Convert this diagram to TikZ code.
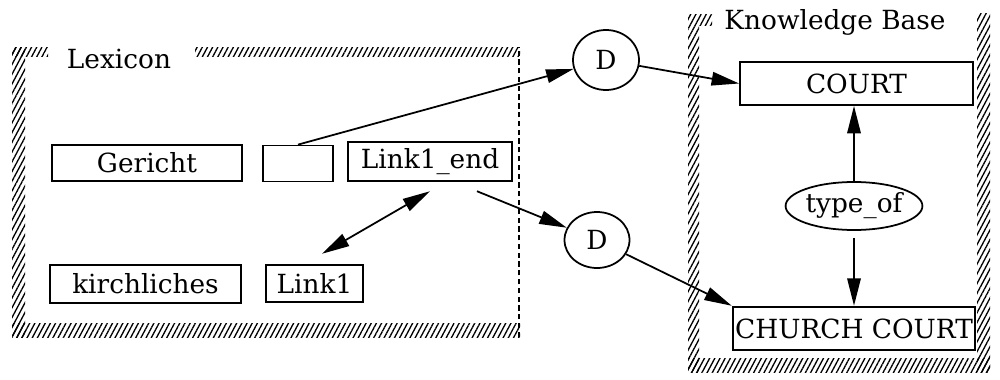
\documentclass[tikz,border=0pt]{standalone}
\usepackage{fontspec}
\setmainfont{DejaVu Serif}
\usetikzlibrary{arrows.meta,patterns.meta,shapes.geometric}

\tikzset{
  >={Triangle[length=5.5mm,width=2.7mm]},
  hatch/.style={pattern={Lines[angle=62,distance=2.6pt,line width=0.75pt]}},
  entry/.style={draw, line width=1pt, minimum height=0.72cm, inner sep=0pt},
  concept/.style={draw, line width=1pt, minimum height=0.86cm, inner sep=0pt},
  oval/.style={draw, ellipse, line width=1pt, inner sep=0pt},
  link/.style={->, line width=1pt},
}

\begin{document}
\begin{tikzpicture}[font=\fontsize{15}{18}\selectfont]
  \useasboundingbox (0,0) rectangle (20,7.58);

  % lexicon frame
  \path[hatch] (0.24,6.46) rectangle (0.96,6.64);
  \path[hatch] (3.90,6.46) rectangle (10.40,6.64);
  \path[hatch] (0.24,0.84) rectangle (0.50,6.64);
  \path[hatch] (0.24,0.84) rectangle (10.40,1.12);
  \draw[densely dashed, line width=0.8pt] (10.38,0.84) -- (10.38,6.64);
  \node (lexicon) at (2.38,6.40) {Lexicon};

  % knowledge base frame
  \path[hatch] (13.76,0.14) rectangle (13.98,7.30);
  \path[hatch] (13.98,7.08) rectangle (14.24,7.30);
  \path[hatch] (19.54,0.14) rectangle (19.80,7.32);
  \path[hatch] (13.76,0.14) rectangle (19.80,0.42);
  \node (kb) at (16.70,7.14) {Knowledge Base};

  % lexicon entries
  \node[entry, minimum width=3.8cm] (gericht) at (2.94,4.32) {Gericht};
  \node[entry, minimum width=1.4cm] (blank) at (5.96,4.31) {};
  \node[entry, minimum width=3.28cm, minimum height=0.78cm, line width=1.4pt] (linkend) at (8.60,4.35) {Link1\_end};
  \node[entry, minimum width=3.82cm, minimum height=0.76cm] (kirchl) at (2.91,1.90) {kirchliches};
  \node[entry, minimum width=1.94cm, minimum height=0.74cm, line width=1.4pt] (link) at (6.29,1.91) {Link1};

  \node[oval, minimum width=1.32cm, minimum height=1.20cm] (d1) at (12.12,6.38) {D};
  \node[oval, minimum width=1.30cm, minimum height=1.12cm] (d2) at (11.94,2.78) {D};

  % concepts
  \node[concept, minimum width=4.66cm] (court) at (17.13,5.91) {COURT};
  \node[oval, minimum width=2.64cm, minimum height=0.96cm] (typeof) at (17.08,3.46) {type\_of};
  \node[concept, minimum width=4.84cm, line width=1.4pt] (church) at (17.08,1.01) {CHURCH COURT};

  \draw[link] (blank.north) -- (d1);
  \draw[link] (d1) -- (court.west);
  \draw[link] ([xshift=0.94cm,yshift=-0.18cm]linkend.south) -- (d2);
  \draw[link] (d2) -- (church.north west);
  \draw[<->, line width=1pt] ([yshift=-0.18cm]linkend.south) -- ([xshift=0.15cm,yshift=0.2cm]link.north);
  \draw[link] (typeof.north) -- (typeof.north |- court.south);
  \draw[link] ([yshift=-0.14cm]typeof.south) -- (typeof.south |- church.north);
\end{tikzpicture}
\end{document}
